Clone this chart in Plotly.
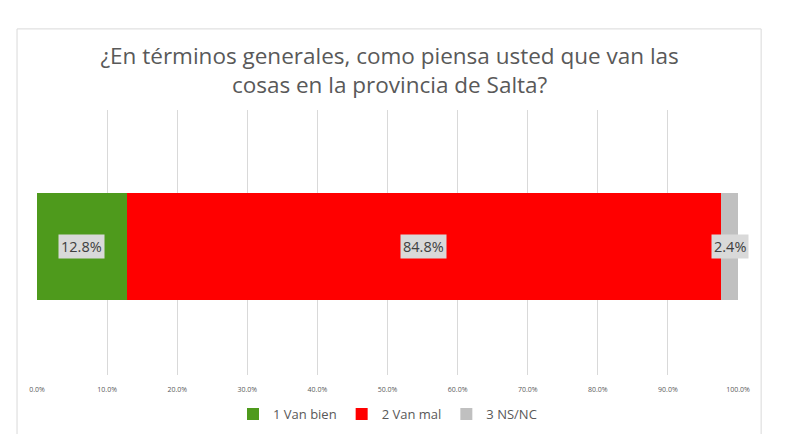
import plotly.graph_objects as go

###############################################################################
# Data
###############################################################################
categories = ["Salta"]
seriesNames = ["1 Van bien", "2 Van mal", "3 NS/NC"]
seriesValues = [12.8, 84.8, 2.4]
seriesColors = ["#4E9A1C", "#FF0000", "#C0C0C0"]
tickVals = [0, 10, 20, 30, 40, 50, 60, 70, 80, 90, 100]
tickText = ["0.0%", "10.0%", "20.0%", "30.0%", "40.0%", "50.0%",
            "60.0%", "70.0%", "80.0%", "90.0%", "100.0%"]
title = "¿En términos generales, como piensa usted que van las<br>cosas en la provincia de Salta?"

###############################################################################
# Figure
###############################################################################
fig = go.Figure()
for name, val, col in zip(seriesNames, seriesValues, seriesColors):
    fig.add_trace(go.Bar(
        y=categories, x=[val], name=name, orientation="h",
        marker=dict(color=col, line=dict(width=0)),
        hoverinfo="x+name"
    ))

# data labels with grey boxes, centred on each segment
start = 0
for val in seriesValues:
    fig.add_annotation(
        x=start + val / 2, y=categories[0], xref="x", yref="y",
        text="%.1f%%" % val, showarrow=False,
        font=dict(family="Open Sans, sans-serif", size=14.5, color="#404040"),
        bgcolor="#D9D9D9", borderpad=2
    )
    start += val

# outer chart border
fig.add_shape(
    type="rect", xref="paper", yref="paper",
    x0=-0.0285, x1=1.033, y0=-0.3, y1=1.306,
    line=dict(color="#D9D9D9", width=1), fillcolor="rgba(0,0,0,0)",
    layer="below"
)

fig.update_layout(
    width=800, height=434,
    barmode="stack", bargap=0.595,
    paper_bgcolor="white", plot_bgcolor="white",
    margin=dict(l=37, r=62, t=110, b=59, autoexpand=False),
    title=dict(
        text=title, x=0.487, xanchor="center", y=0.853, yanchor="middle",
        font=dict(family="Open Sans, sans-serif", size=22.5, color="#595959")
    ),
    xaxis=dict(
        range=[0, 100], tickvals=tickVals, ticktext=tickText,
        showgrid=True, gridcolor="#D9D9D9", gridwidth=1, zeroline=False,
        showline=False, ticks="outside", ticklen=8, tickcolor="white",
        tickfont=dict(family="Open Sans, sans-serif", size=7, color="#595959")
    ),
    yaxis=dict(showticklabels=False, showgrid=False, zeroline=False,
               range=[-0.485, 0.515]),
    legend=dict(
        orientation="h", x=0.5, xanchor="center",
        yref="container", y=0.046, yanchor="middle",
        font=dict(family="Open Sans, sans-serif", size=13, color="#595959"),
        traceorder="normal"
    ),
    showlegend=True
)

fig.write_html(
    "out.html",
    config=dict(displayModeBar=False),
    post_script="document.body.style.margin='0px';"
)
